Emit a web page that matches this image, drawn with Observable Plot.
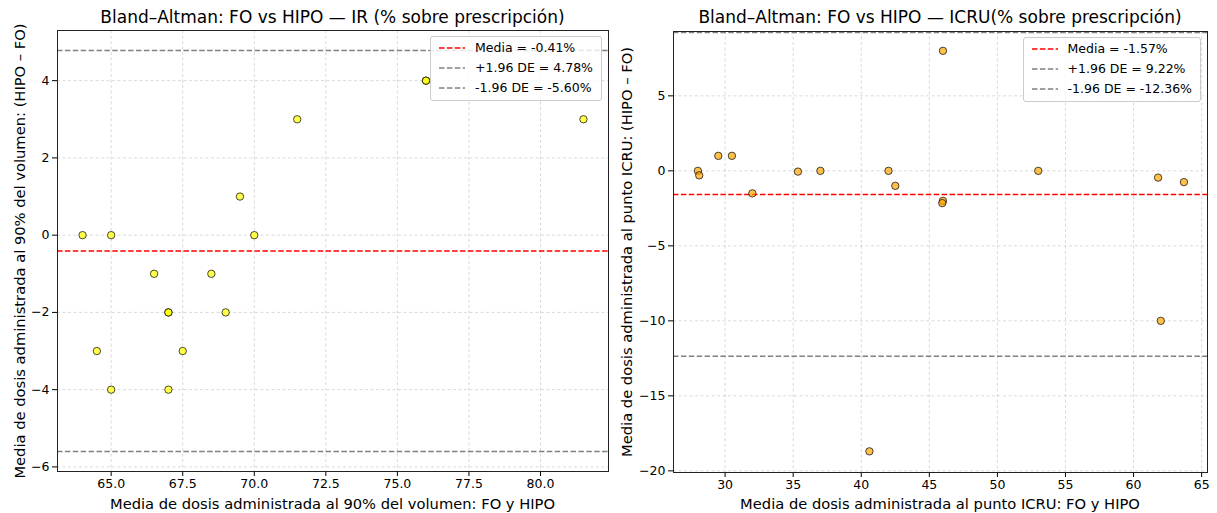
<!DOCTYPE html>
<html>
<head>
<meta charset="utf-8">
<script src="https://cdn.jsdelivr.net/npm/d3@7"></script>
<script src="https://cdn.jsdelivr.net/npm/@observablehq/plot@0.6"></script>
<style>
  body { margin: 0; background: #fff; font-family: "DejaVu Sans", sans-serif; color: #000; }
  #wrap { position: relative; width: 1217px; height: 513px; overflow: hidden; background: #fff; }
  .abs { position: absolute; }
  .title { font-size: 17px; white-space: nowrap; transform: translate(-50%, -50%); }
  .xlab { font-size: 14.7px; white-space: nowrap; transform: translate(-50%, -50%); }
  .ylab { font-size: 14.7px; white-space: nowrap; transform: translate(-50%, -50%) rotate(-90deg); }
  .legend { background: rgba(255,255,255,0.8); border: 1px solid #cccccc; border-radius: 3px;
            font-size: 12.5px; padding: 1px 8px 2px 8px; white-space: nowrap; }
  .legend .row { height: 20px; line-height: 20px; display: flex; align-items: center; }
  .legend svg { margin-right: 10px; flex: none; }
</style>
</head>
<body>
<div id="wrap"></div>
<script>
// ---------- data ----------
const irTitle = "Bland–Altman: FO vs HIPO — IR (% sobre prescripción)";
const irXLabel = "Media de dosis administrada al 90% del volumen: FO y HIPO";
const irYLabel = "Media de dosis administrada al 90% del volumen: (HIPO – FO)";
const irMean = [64.0, 65.0, 64.5, 65.0, 66.5, 67.0, 67.0, 67.0, 67.5, 68.5, 69.0, 69.5, 70.0, 71.5, 76.0, 76.0, 81.5];
const irDiff = [0, 0, -3, -4, -1, -2, -2, -4, -3, -1, -2, 1, 0, 3, 4, 4, 3];
const irStats = [-0.41, 4.78, -5.60]; // media, +1.96 DE, -1.96 DE
const irXTicks = [65, 67.5, 70, 72.5, 75, 77.5, 80];
const irYTicks = [-6, -4, -2, 0, 2, 4];

const icruTitle = "Bland–Altman: FO vs HIPO — ICRU(% sobre prescripción)";
const icruXLabel = "Media de dosis administrada al punto ICRU: FO y HIPO";
const icruYLabel = "Media de dosis administrada al punto ICRU: (HIPO – FO)";
const icruMean = [28.0, 28.1, 29.5, 30.5, 32.0, 35.35, 37.0, 42.0, 42.5, 46.0, 46.0, 45.95, 53.0, 61.8, 63.7, 40.6, 62.0];
const icruDiff = [0, -0.3, 1, 1, -1.5, -0.05, 0, 0, -1, 8, -2, -2.15, 0, -0.45, -0.75, -18.7, -10];
const icruStats = [-1.57, 9.22, -12.36];
const icruXTicks = [30, 35, 40, 45, 50, 55, 60, 65];
const icruYTicks = [-20, -15, -10, -5, 0, 5];

const legendNames = ["Media", "+1.96 DE", "-1.96 DE"];
const legendColors = ["red", "gray", "gray"];

// ---------- drawing ----------
const wrap = document.getElementById("wrap");

function panel(cfg) {
  const data = cfg.xs.map((x, i) => ({x, y: cfg.ys[i]}));
  const gridStyle = {stroke: "#b0b0b0", strokeOpacity: 0.6, strokeDasharray: "3,2.5", strokeWidth: 0.8};
  const dash = "5.5,2.4";
  const svg = Plot.plot({
    width: cfg.width, height: 513,
    marginLeft: cfg.ml, marginRight: cfg.mr, marginTop: cfg.mt, marginBottom: cfg.mb,
    style: {fontFamily: "DejaVu Sans", fontSize: "12.5px", color: "#000", background: "transparent"},
    x: {domain: cfg.xDomain, label: null},
    y: {domain: cfg.yDomain, label: null},
    marks: [
      Plot.gridX(cfg.xTicks, gridStyle),
      Plot.gridY(cfg.yTicks, gridStyle),
      Plot.ruleY([cfg.stats[1], cfg.stats[2]], {stroke: "gray", strokeWidth: 1.5, strokeDasharray: dash}),
      Plot.ruleY([cfg.stats[0]], {stroke: "red", strokeWidth: 1.5, strokeDasharray: dash}),
      Plot.dot(data, {x: "x", y: "y", r: 3.7, fill: cfg.fill, fillOpacity: 0.7,
                      stroke: "black", strokeOpacity: 0.7, strokeWidth: 1}),
      Plot.axisX(cfg.xTicks, {tickSize: 5, tickPadding: 3, tickFormat: cfg.xFmt, label: null}),
      Plot.axisY(cfg.yTicks, {tickSize: 5, tickPadding: 3, tickFormat: d3.format("d"), label: null}),
      Plot.frame({stroke: "#222", strokeWidth: 1})
    ]
  });
  svg.style.position = "absolute";
  svg.style.left = cfg.left + "px";
  svg.style.top = "0px";
  wrap.appendChild(svg);

  const frameL = cfg.left + cfg.ml, frameR = cfg.left + cfg.width - cfg.mr;
  const cx = (frameL + frameR) / 2;
  const cy = (cfg.mt + 513 - cfg.mb) / 2;

  const t = document.createElement("div");
  t.className = "abs title"; t.textContent = cfg.title;
  t.style.left = cx + "px"; t.style.top = "17px";
  wrap.appendChild(t);

  const xl = document.createElement("div");
  xl.className = "abs xlab"; xl.textContent = cfg.xLabel;
  xl.style.left = cx + "px"; xl.style.top = "503px";
  wrap.appendChild(xl);

  const yl = document.createElement("div");
  yl.className = "abs ylab"; yl.textContent = cfg.yLabel;
  yl.style.left = cfg.yLabelX + "px"; yl.style.top = cy + "px";
  wrap.appendChild(yl);

  const lg = document.createElement("div");
  lg.className = "abs legend";
  lg.style.right = (1217 - frameR + 6) + "px";
  lg.style.top = (cfg.mt + 6) + "px";
  legendNames.forEach((name, i) => {
    const row = document.createElement("div");
    row.className = "row";
    row.innerHTML = `<svg width="26" height="10"><line x1="0" y1="5" x2="26" y2="5" stroke="${legendColors[i]}" stroke-width="1.5" stroke-dasharray="${dash}"/></svg><span>${name} = ${cfg.stats[i].toFixed(2)}%</span>`;
    lg.appendChild(row);
  });
  wrap.appendChild(lg);
}

panel({
  xs: irMean, ys: irDiff, stats: irStats, xTicks: irXTicks, yTicks: irYTicks,
  xDomain: [63.125, 82.375], yDomain: [-6.119, 5.299], xFmt: d3.format(".1f"),
  fill: "yellow", title: irTitle, xLabel: irXLabel, yLabel: irYLabel,
  left: 0, width: 615, ml: 57, mr: 7, mt: 30, mb: 42, yLabelX: 19
});
panel({
  xs: icruMean, ys: icruDiff, stats: icruStats, xTicks: icruXTicks, yTicks: icruYTicks,
  xDomain: [26.21, 65.43], yDomain: [-20.11, 9.29], xFmt: d3.format("d"),
  fill: "orange", title: icruTitle, xLabel: icruXLabel, yLabel: icruYLabel,
  left: 615, width: 602, ml: 58, mr: 10, mt: 31, mb: 41, yLabelX: 626
});
</script>
</body>
</html>
